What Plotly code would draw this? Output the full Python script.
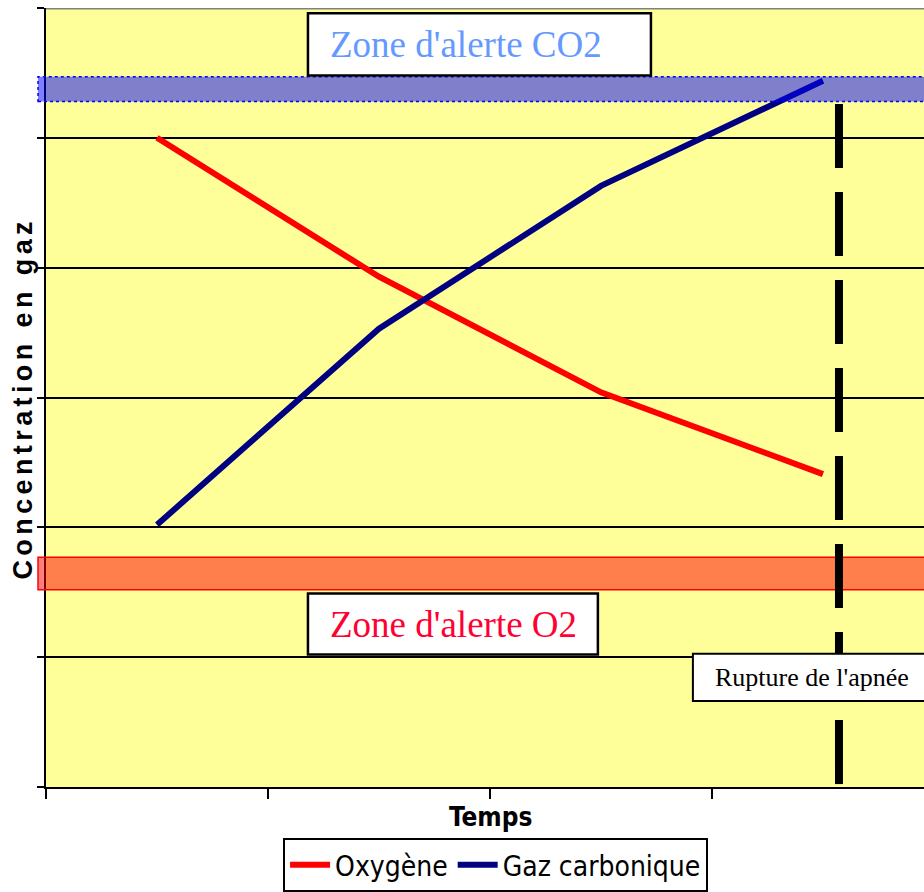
import plotly.graph_objects as go

# ---- data ----
temps = [1, 2, 3, 4]
oxygene = [50.0, 39.3, 30.4, 24.1]
gaz_carbonique = [20.2, 35.3, 46.3, 54.4]
zone_co2 = [52.8, 54.7]
zone_o2 = [15.2, 17.7]
rupture_x = 4.072

COND = "DejaVu Sans Condensed, Liberation Sans Narrow, Arial Narrow, sans-serif"
SERIF = "Liberation Serif, Times New Roman, serif"

fig = go.Figure()
fig.add_trace(go.Scatter(x=temps, y=oxygene, mode="lines", name="Oxygène",
                         line=dict(color="#FF0000", width=6)))
fig.add_trace(go.Scatter(x=temps, y=gaz_carbonique, mode="lines", name="Gaz carbonique",
                         line=dict(color="#000080", width=6)))

shapes = [
    dict(type="rect", xref="paper", yref="y", x0=-0.0091, x1=1.02, y0=zone_co2[0], y1=zone_co2[1],
         fillcolor="rgba(0,0,255,0.5)", line=dict(color="#0000FF", width=1.5, dash="dot"), layer="above"),
    dict(type="rect", xref="paper", yref="y", x0=-0.0091, x1=1.02, y0=zone_o2[0], y1=zone_o2[1],
         fillcolor="rgba(255,0,0,0.5)", line=dict(color="#FF0000", width=1.5), layer="above"),
    dict(type="line", xref="paper", yref="y", x0=0, x1=1, y0=60, y1=60,
         line=dict(color="#808080", width=3), layer="above"),
    dict(type="line", xref="x", yref="y", x0=rupture_x, x1=rupture_x, y0=52.6, y1=0,
         line=dict(color="black", width=8, dash="64px,24px"), layer="above"),
    dict(type="rect", xref="x", yref="y", x0=1.680, x1=3.225, y0=54.8, y1=59.6,
         fillcolor="white", line=dict(color="black", width=2.5), layer="above"),
    dict(type="rect", xref="x", yref="y", x0=1.680, x1=2.986, y0=10.2, y1=14.9,
         fillcolor="white", line=dict(color="black", width=2.5), layer="above"),
    dict(type="rect", xref="x", yref="y", x0=3.414, x1=4.6, y0=6.63, y1=10.26,
         fillcolor="white", line=dict(color="black", width=2), layer="above"),
]

annotations = [
    dict(xref="x", yref="y", x=1.770, y=57.2, text="Zone d'alerte CO2", showarrow=False,
         xanchor="left", yanchor="middle", font=dict(family=SERIF, size=37, color="#6699FF")),
    dict(xref="x", yref="y", x=1.770, y=12.5, text="Zone d'alerte O2", showarrow=False,
         xanchor="left", yanchor="middle", font=dict(family=SERIF, size=37, color="#FF0033")),
    dict(xref="x", yref="y", x=3.505, y=8.41, text="Rupture de l'apnée", showarrow=False,
         xanchor="left", yanchor="middle", font=dict(family=SERIF, size=26, color="black")),
    dict(xref="paper", yref="paper", x=-0.0273, y=0.4987, textangle=-90,
         text='<span style="letter-spacing:4.4px">Concentration en gaz</span>', showarrow=False,
         xanchor="center", yanchor="middle",
         font=dict(family="Liberation Sans, Arial, sans-serif", size=27, color="black", weight="bold")),
    dict(xref="paper", yref="paper", x=0.5068, y=-0.0386, text="Temps", showarrow=False,
         xanchor="center", yanchor="middle",
         font=dict(family=COND, size=26, color="black", weight="bold")),
]

fig.update_layout(
    width=924, height=892,
    margin=dict(l=46, r=0, t=8, b=103),
    paper_bgcolor="white", plot_bgcolor="#FFFF99",
    showlegend=True,
    legend=dict(orientation="h", x=0.27, xanchor="left", y=-0.0656, yanchor="top",
                bgcolor="white", bordercolor="black", borderwidth=2,
                font=dict(family=COND, size=28, color="black"),
                itemwidth=40, tracegroupgap=0),
    shapes=shapes, annotations=annotations,
)
fig.update_xaxes(range=[0.5, 4.455], tickvals=[0.5, 1.5, 2.5, 3.5, 4.5], showticklabels=False,
                 ticks="outside", ticklen=10, tickwidth=2, tickcolor="black",
                 showgrid=False, zeroline=False, showline=True, linecolor="black", linewidth=2)
fig.update_yaxes(range=[0, 60], dtick=10, showticklabels=False,
                 ticks="outside", ticklen=7, tickwidth=2, tickcolor="black",
                 showgrid=True, gridcolor="black", gridwidth=1.5, zeroline=False,
                 showline=True, linecolor="black", linewidth=2)

fig.write_html("out.html", config={"displayModeBar": False},
               post_script="document.body.style.margin='0';document.body.style.overflow='hidden';")
